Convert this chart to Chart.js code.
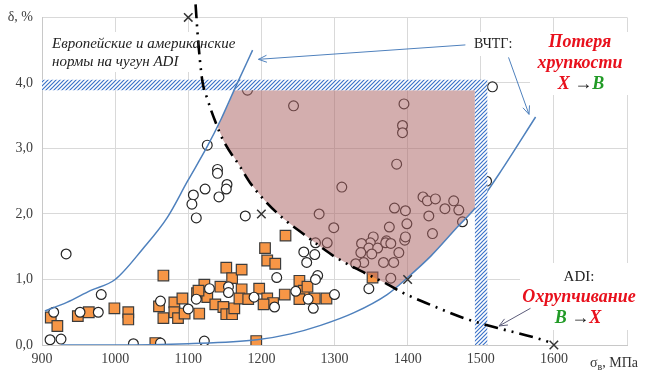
<!DOCTYPE html>
<html>
<head>
<meta charset="utf-8">
<script src="https://cdn.jsdelivr.net/npm/chart.js@4.4.0/dist/chart.umd.min.js"></script>
<style>
  html, body { margin: 0; padding: 0; background: #fff; }
</style>
</head>
<body>
<canvas id="grafico" width="645" height="373"></canvas>
<script>
// ВЧТГ / ADI: предел прочности (МПа) и относительное удлинение (%)

// белые кружки
var circX = [916, 911, 926, 933, 981, 952, 977, 1025, 1062, 1062, 1100, 1111, 1129, 1122, 1155, 1155,
    1190, 1218, 1221, 1247, 1264, 1271, 1300, 1258, 1273, 1262, 1277, 1274, 1347,
    1126, 1140, 1140, 1153, 1152, 1123, 1107, 1105, 1142, 1111, 1178, 1516, 1508,
    1181, 1244, 1395, 1393, 1393, 1385, 1310, 1279, 1299, 1375, 1382, 1397, 1399, 1421, 1427, 1438,
    1429, 1451, 1463, 1470, 1475, 1434, 1371, 1353, 1349, 1337, 1347, 1359, 1336, 1351, 1370, 1377,
    1396, 1397, 1388, 1367, 1381, 1340, 1329, 1377, 1274, 1290]
var circY = [0.50, 0.08, 0.09, 1.39, 0.77, 0.50, 0.50, 0.02, 0.67, 0.03, 0.55, 0.70, 0.86, 0.06, 0.89, 0.80,
    0.73, 0.58, 1.03, 0.82, 0.70, 0.56, 0.77, 1.42, 1.38, 1.26, 1.06, 1.00, 0.86,
    3.05, 2.68, 2.62, 2.45, 2.38, 2.38, 2.29, 2.15, 2.26, 1.94, 1.97, 3.94, 2.50,
    3.89, 3.65, 3.68, 3.35, 3.24, 2.76, 2.41, 2.00, 1.79, 1.80, 2.09, 2.05, 1.85, 2.26, 2.20, 2.23,
    1.97, 2.08, 2.20, 2.06, 1.88, 1.70, 1.59, 1.65, 1.56, 1.55, 1.48, 1.48, 1.41, 1.39, 1.56, 1.55,
    1.60, 1.65, 1.41, 1.26, 1.26, 1.26, 1.24, 1.02, 1.56, 1.56]

// оранжевые квадраты
var quadX = [912, 921, 949, 964, 999, 1018, 1018, 1066, 1060, 1066, 1055, 1081, 1092, 1081, 1086, 1095,
    1115, 1112, 1122, 1126, 1137, 1144, 1148, 1152, 1160, 1152, 1160, 1163, 1173, 1173, 1170, 1182,
    1197, 1205, 1208, 1219, 1233, 1232, 1193, 1208, 1216, 1203, 1252, 1258, 1263, 1252, 1273, 1289,
    1352, 1114]
var quadY = [0.42, 0.29, 0.44, 0.50, 0.56, 0.50, 0.39, 1.06, 0.59, 0.41, 0.03, 0.65, 0.71, 0.50, 0.41, 0.48,
    0.48, 0.79, 0.92, 0.73, 0.62, 0.89, 0.58, 1.18, 1.02, 0.47, 0.47, 0.56, 1.15, 0.85, 0.71, 0.70,
    0.86, 1.48, 1.29, 1.24, 1.67, 0.77, 0.06, 0.71, 0.64, 0.62, 0.98, 0.83, 0.89, 0.70, 0.71, 0.71,
    1.03, 0.83]

// точки норм (крестики)
var normaX = [1100, 1200, 1400, 1600]
var normaY = [5.0, 2.0, 1.0, 0.0]

// штрихпунктирная граница
var ddX = [1110, 1113, 1119, 1126, 1137, 1148, 1171, 1185, 1205, 1230, 1258, 1281, 1300, 1336, 1372, 1393, 1432, 1477, 1523, 1578, 1600]
var ddY = [5.2, 4.72, 4.05, 3.76, 3.41, 3.12, 2.72, 2.47, 2.2, 1.93, 1.69, 1.5, 1.35, 1.13, 0.93, 0.8, 0.61, 0.41, 0.26, 0.1, 0.02]

// огибающие ВЧТГ
var vchX = [904, 934, 966, 1000, 1038, 1071, 1099, 1126, 1145, 1166, 1188]
var vchY = [0.52, 0.65, 0.83, 1.0, 1.47, 1.94, 2.5, 3.03, 3.45, 3.97, 4.5]
var nizX = [926, 1000, 1100, 1194, 1240, 1281, 1326, 1372, 1400, 1432, 1468, 1493, 1525, 1575]
var nizY = [0.0, 0.0, 0.02, 0.08, 0.17, 0.3, 0.49, 0.77, 1.03, 1.36, 1.8, 2.1, 2.61, 3.48]

// зона потери хрупкости
var zonaX = [1140, 1145, 1155, 1163, 1492, 1492, 1468, 1432, 1400, 1382, 1372, 1336, 1300, 1281, 1258, 1230, 1205, 1185, 1171, 1148, 1140]
var zonaY = [3.34, 3.45, 3.67, 3.89, 3.89, 2.09, 1.8, 1.36, 1.03, 0.865, 0.93, 1.13, 1.35, 1.5, 1.69, 1.93, 2.2, 2.47, 2.72, 3.12, 3.34]

// заштрихованная полоса норм (4 % и 1500 МПа)
var faixaX = [900, 1509, 1509, 1492, 1492, 900]
var faixaY = [4.05, 4.05, 0, 0, 3.89, 3.89]

function pontos(xs, ys) {
    var r = []
    for (let i = 0; i < xs.length; i++) {
        r.push({ x: xs[i], y: ys[i] })
    }
    return r
}

// штриховка
var pat = document.createElement('canvas')
pat.width = 4
pat.height = 4
var pc = pat.getContext('2d')
pc.fillStyle = '#ffffff'
pc.fillRect(0, 0, 4, 4)
pc.strokeStyle = 'rgb(60, 115, 200)'
pc.lineWidth = 1.2
pc.beginPath()
pc.moveTo(0, 4); pc.lineTo(4, 0)
pc.moveTo(-1, 1); pc.lineTo(1, -1)
pc.moveTo(3, 5); pc.lineTo(5, 3)
pc.stroke()
var hachura = document.getElementById('grafico').getContext('2d').createPattern(pat, 'repeat')

var SERIF = '"Liberation Serif", "Times New Roman", serif'
var VERMELHO = '#e8101c'
var VERDE = '#219a26'

function seta(ctx, x1, y1, x2, y2, cor) {
    ctx.save()
    ctx.strokeStyle = cor
    ctx.lineWidth = 1
    ctx.beginPath()
    ctx.moveTo(x1, y1)
    ctx.lineTo(x2, y2)
    var ang = Math.atan2(y2 - y1, x2 - x1)
    ctx.moveTo(x2 - 9 * Math.cos(ang - 0.4), y2 - 9 * Math.sin(ang - 0.4))
    ctx.lineTo(x2, y2)
    ctx.lineTo(x2 - 9 * Math.cos(ang + 0.4), y2 - 9 * Math.sin(ang + 0.4))
    ctx.stroke()
    ctx.restore()
}

// строка из кусков разного цвета, по центру cx
function linhaCor(ctx, partes, cx, y) {
    var total = 0
    partes.forEach(p => { ctx.font = p[2]; total += ctx.measureText(p[0]).width })
    var x = cx - total / 2
    partes.forEach(p => {
        ctx.font = p[2]
        ctx.fillStyle = p[1]
        ctx.fillText(p[0], x, y)
        x += ctx.measureText(p[0]).width
    })
}

var caixas = [
    [46, 32, 192, 40],
    [470, 32, 50, 24],
    [530, 32, 115, 63],
    [520, 263, 125, 67]
]

const anotacoes = {
    id: 'anotacoes',
    beforeDatasetsDraw(chart) {
        var ctx = chart.ctx
        ctx.save()
        ctx.fillStyle = '#ffffff'
        caixas.forEach(c => ctx.fillRect(c[0], c[1], c[2], c[3]))
        ctx.restore()
    },
    afterDatasetsDraw(chart) {
        var ctx = chart.ctx
        var sx = chart.scales.x
        var sy = chart.scales.y
        var px = v => sx.getPixelForValue(v)
        var py = v => sy.getPixelForValue(v)

        seta(ctx, px(1479), py(4.58), px(1196), py(4.36), '#4f81bd')
        seta(ctx, px(1538), py(4.39), px(1566), py(3.52), '#4f81bd')
        seta(ctx, px(1568), py(0.56), px(1525), py(0.29), '#5c5c7a')

        ctx.save()
        ctx.textBaseline = 'middle'
        ctx.textAlign = 'left'
        ctx.fillStyle = '#222'
        ctx.font = 'italic 15px ' + SERIF
        ctx.fillText('Европейские и американские', 52, 44)
        ctx.fillText('нормы на чугун ADI', 52, 62)
        ctx.font = '14px ' + SERIF
        ctx.fillText('ВЧТГ:', 474, 44)

        var bi = 'italic bold 18px ' + SERIF
        var nr = '18px ' + SERIF
        ctx.textAlign = 'center'
        ctx.fillStyle = VERMELHO
        ctx.font = bi
        ctx.fillText('Потеря', 580, 42)
        ctx.fillText('хрупкости', 580, 63)
        ctx.fillText('Охрупчивание', 579, 297)
        ctx.fillStyle = '#222'
        ctx.font = '15px ' + SERIF
        ctx.fillText('ADI:', 579, 277)
        ctx.textAlign = 'left'
        linhaCor(ctx, [['Х', VERMELHO, bi], [' \u2192', '#111', nr], ['В', VERDE, bi]], 581, 84)
        linhaCor(ctx, [['В', VERDE, bi], [' \u2192', '#111', nr], ['Х', VERMELHO, bi]], 578, 318)
        ctx.restore()
    },
    afterDraw(chart) {
        // подпись оси X с индексом
        var ctx = chart.ctx
        ctx.save()
        ctx.fillStyle = '#333'
        ctx.textBaseline = 'alphabetic'
        var x = 590
        ctx.font = '14px ' + SERIF
        ctx.fillText('σ', x, 367)
        x += ctx.measureText('σ').width
        ctx.font = '10px ' + SERIF
        ctx.fillText('в', x, 370)
        x += ctx.measureText('в').width
        ctx.font = '14px ' + SERIF
        ctx.fillText(', МПа', x, 367)
        ctx.restore()
    }
}

var linhaBase = { showLine: true, pointRadius: 0, fill: false, cubicInterpolationMode: 'monotone' }

const config = {
    type: 'scatter',
    data: {
        datasets: [{
            label: 'нормы',
            data: pontos(normaX, normaY),
            pointStyle: 'crossRot',
            pointRadius: 6,
            borderColor: '#333',
            borderWidth: 1.5,
            clip: false
        }, Object.assign({}, linhaBase, {
            label: 'граница',
            data: pontos(ddX, ddY),
            borderColor: '#000',
            borderWidth: 2.6,
            borderDash: [14, 6, 2, 6, 2, 6],
            clip: false
        }), Object.assign({}, linhaBase, {
            label: 'ВЧТГ верх',
            data: pontos(vchX, vchY),
            borderColor: '#4f81bd',
            borderWidth: 1.5
        }), {
            label: 'полоса',
            data: pontos(faixaX, faixaY),
            showLine: true,
            pointRadius: 0,
            borderWidth: 0,
            backgroundColor: hachura,
            fill: 'shape'
        }, Object.assign({}, linhaBase, {
            label: 'ВЧТГ низ',
            data: pontos(nizX, nizY),
            borderColor: '#4f81bd',
            borderWidth: 1.5
        }), {
            label: 'зона',
            data: pontos(zonaX, zonaY),
            showLine: true,
            pointRadius: 0,
            borderWidth: 0,
            backgroundColor: 'rgba(170, 100, 100, 0.52)',
            fill: 'shape'
        }, {
            label: 'ВЧТГ',
            data: pontos(circX, circY),
            pointStyle: 'circle',
            pointRadius: 4.9,
            backgroundColor: '#ffffff',
            borderColor: '#262626',
            borderWidth: 1.2
        }, {
            label: 'ADI',
            data: pontos(quadX, quadY),
            pointStyle: 'rect',
            pointRadius: 7.5,
            backgroundColor: '#f79646',
            borderColor: '#3c3c3c',
            borderWidth: 1.2
        }]
    },
    options: {
        responsive: false,
        animation: false,
        events: [],
        layout: { padding: { top: 16, right: 18, left: 0, bottom: 0 } },
        plugins: {
            legend: { display: false },
            tooltip: { enabled: false }
        },
        scales: {
            x: {
                type: 'linear',
                min: 900,
                max: 1700,
                afterFit: s => { s.height = 28 },
                grid: { color: '#d9d9d9', drawTicks: false },
                border: { color: '#c8c8c8' },
                ticks: {
                    stepSize: 100,
                    padding: 6,
                    color: '#404040',
                    font: { family: SERIF, size: 14 },
                    callback: v => (v === 1700 ? '' : String(v))
                }
            },
            y: {
                type: 'linear',
                min: 0,
                max: 5,
                afterFit: s => { s.width = 42 },
                grid: { color: '#d9d9d9', drawTicks: false },
                border: { color: '#c8c8c8' },
                ticks: {
                    stepSize: 1,
                    padding: 9,
                    color: '#404040',
                    font: { family: SERIF, size: 14 },
                    callback: v => (v === 5 ? 'δ, %' : v.toFixed(1).replace('.', ','))
                }
            }
        }
    },
    plugins: [anotacoes]
}

const grafico = new Chart(document.getElementById('grafico'), config)
</script>
</body>
</html>
